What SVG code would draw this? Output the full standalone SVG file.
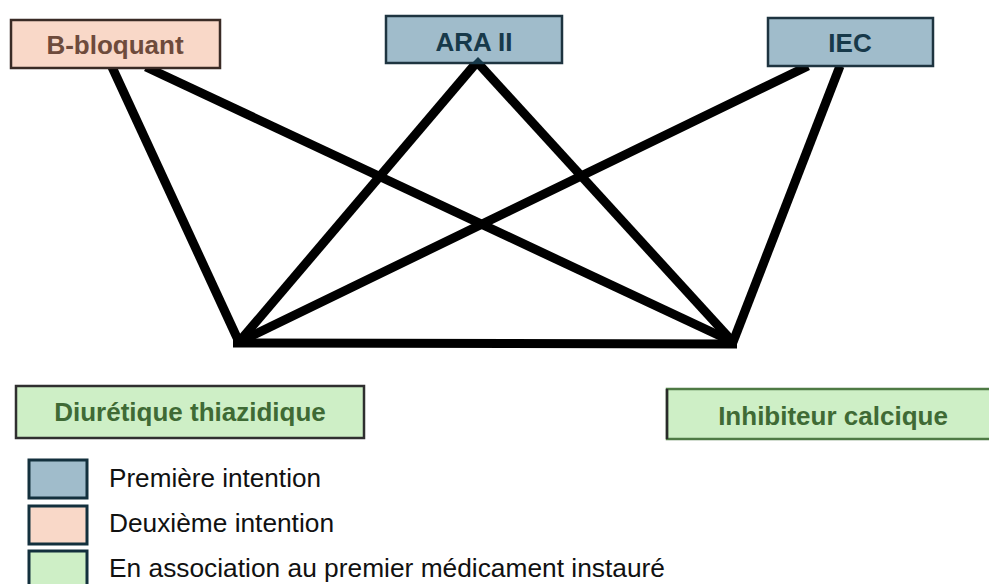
<svg xmlns="http://www.w3.org/2000/svg" width="989" height="584" viewBox="0 0 989 584">
<style>
.lbl{font-family:"Liberation Sans",Arial,sans-serif;font-weight:bold;font-size:26px;text-anchor:middle}
.leg{font-family:"Liberation Sans",Arial,sans-serif;font-size:25px;fill:#111}
.edge{stroke:#000;stroke-width:9;fill:none;stroke-linecap:butt}
.blue{fill:#a0bccb;stroke:#1e3440;stroke-width:2.5}
.peach{fill:#f9d8c8;stroke:#3a2b25;stroke-width:2.5}
.green{fill:#ceefc6;stroke:#2f2f2f;stroke-width:2.5}
.sq{stroke:#13303d;stroke-width:3}
</style>
<rect width="989" height="584" fill="#fff"/>
<g id="connectors">
<line class="edge" x1="112" y1="67" x2="239" y2="342"/>
<line class="edge" x1="146" y1="67" x2="733" y2="342"/>
<line class="edge" x1="477" y1="62" x2="239" y2="342"/>
<line class="edge" x1="477" y1="62" x2="733" y2="342"/>
<line class="edge" x1="808" y1="66" x2="239" y2="342"/>
<line class="edge" x1="840" y1="66" x2="733" y2="342"/>
<line class="edge" x1="233" y1="343" x2="737" y2="344"/>
</g>
<g id="b-bloquant">
<rect class="peach" x="11" y="20" width="209" height="48"/>
<text class="lbl" x="115" y="54" fill="#6e4b3c">B-bloquant</text>
</g>
<g id="ara-ii">
<rect class="blue" x="386" y="16" width="176" height="47"/>
<text class="lbl" x="474" y="51" fill="#17394a">ARA II</text>
<polygon points="471,64 478,57 485,64" fill="#17394a"/>
</g>
<g id="iec">
<rect class="blue" x="768" y="18" width="165" height="48"/>
<text class="lbl" x="850" y="52" fill="#17394a">IEC</text>
</g>
<g id="diuretique">
<rect class="green" x="16" y="386" width="348" height="52"/>
<text class="lbl" x="190" y="421" fill="#3f6a35">Diurétique thiazidique</text>
</g>
<g id="inhibiteur">
<rect x="667" y="389" width="330" height="50" fill="#ceefc6" stroke="#4e7a44" stroke-width="2.5"/>
<line x1="667" y1="389" x2="667" y2="439" stroke="#2a2a2a" stroke-width="2.5"/>
<text class="lbl" x="833" y="425" fill="#3f6a35">Inhibiteur calcique</text>
</g>
<g id="legend">
<rect class="sq" x="29" y="460" width="58" height="38" fill="#a0bccb"/>
<text class="leg" x="109" y="487" textLength="212" lengthAdjust="spacingAndGlyphs">Première intention</text>
<rect class="sq" x="29" y="506" width="58" height="38" fill="#f9d8c8"/>
<text class="leg" x="109" y="532" textLength="225" lengthAdjust="spacingAndGlyphs">Deuxième intention</text>
<rect class="sq" x="29" y="551" width="58" height="40" fill="#ceefc6"/>
<text class="leg" x="109" y="577" textLength="556" lengthAdjust="spacingAndGlyphs">En association au premier médicament instauré</text>
</g>
</svg>
